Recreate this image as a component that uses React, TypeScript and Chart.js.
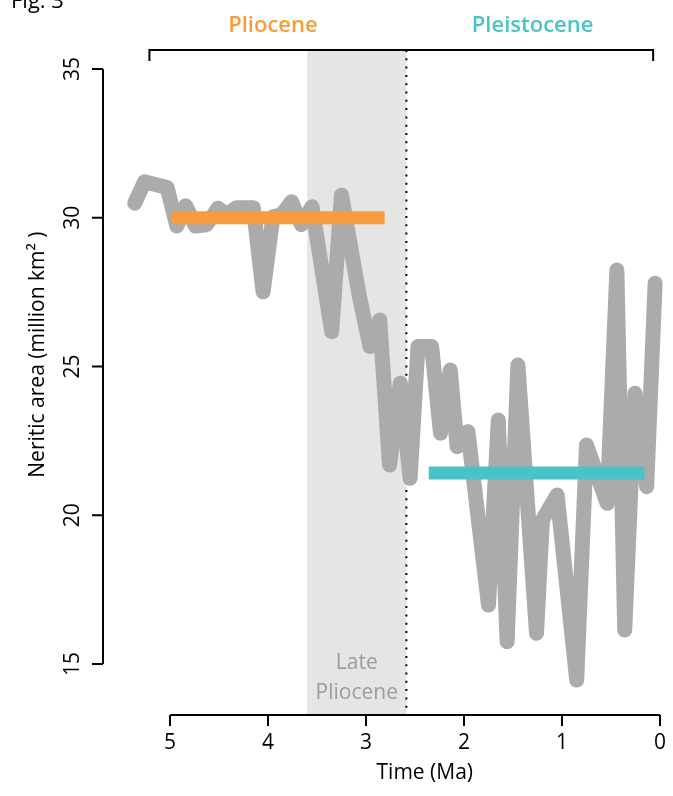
import React, { useEffect, useRef } from "react";
import { Chart, registerables } from "chart.js";
Chart.register(...registerables);

// Neritic area through time (gray series)
const timeMa = [5.36, 5.26, 5.03, 4.93, 4.84, 4.74, 4.63, 4.51, 4.42, 4.32, 4.15, 4.05, 3.95, 3.86, 3.76, 3.66, 3.55, 3.35, 3.25, 3.07, 2.96, 2.86, 2.76, 2.65, 2.55, 2.47, 2.33, 2.24, 2.14, 2.07, 1.96, 1.75, 1.65, 1.56, 1.45, 1.26, 1.2, 1.05, 0.85, 0.75, 0.54, 0.44, 0.36, 0.255, 0.136, 0.05];
const neriticArea = [30.49, 31.21, 31.02, 29.72, 30.4, 29.72, 29.76, 30.32, 30.1, 30.34, 30.34, 27.51, 30.03, 30.1, 30.54, 29.77, 30.37, 26.17, 30.76, 27.4, 25.67, 26.56, 21.69, 24.44, 21.24, 25.67, 25.67, 22.76, 24.88, 22.3, 22.81, 16.98, 23.2, 15.75, 25.05, 16.03, 19.84, 20.68, 14.46, 22.36, 20.4, 28.24, 16.14, 24.1, 20.96, 27.8];

// Epoch means
const plioceneSpan = [4.98, 2.81];
const plioceneMean = 30.0;
const pleistoceneSpan = [2.36, 0.16];
const pleistoceneMean = 21.42;

// Axes / annotations
const xTicks = [5, 4, 3, 2, 1, 0];
const yTicks = [15, 20, 25, 30, 35];
const latePlioceneSpan = [3.6, 2.588];
const epochBoundary = 2.588;
const bracketSpan = [5.21, 0.07];
const epochLabels = ["Pliocene", "Pleistocene"];
const epochLabelCenters = [3.95, 1.3];

const GRAY = "#aaabaa";
const ORANGE = "#f69c3a";
const CYAN = "#48c3c6";
const FONT = "'Open Sans', sans-serif";

export default function App() {
  const ref = useRef<HTMLCanvasElement | null>(null);

  useEffect(() => {
    document.body.style.margin = "0";
    const canvas = ref.current;
    if (!canvas) return;

    const decor = {
      id: "decor",
      beforeDatasetsDraw(chart: any) {
        const ctx = chart.ctx;
        const xs = chart.scales.x;
        const ys = chart.scales.y;
        const topY = ys.getPixelForValue(35) - 19;
        const axisY = ys.getPixelForValue(15) + 51;
        ctx.save();
        // Late Pliocene band
        const bx0 = xs.getPixelForValue(latePlioceneSpan[0]);
        const bx1 = xs.getPixelForValue(latePlioceneSpan[1]);
        ctx.fillStyle = "#e5e5e5";
        ctx.fillRect(bx0, topY, bx1 - bx0, axisY - topY);
        // dotted boundary
        const dx = xs.getPixelForValue(epochBoundary);
        ctx.strokeStyle = "#000";
        ctx.lineWidth = 2;
        ctx.setLineDash([2, 6.3]);
        ctx.beginPath();
        ctx.moveTo(dx, topY);
        ctx.lineTo(dx, axisY);
        ctx.stroke();
        ctx.setLineDash([]);
        // band label
        ctx.fillStyle = "#9c9c9c";
        ctx.font = `21px ${FONT}`;
        ctx.textAlign = "center";
        ctx.textBaseline = "alphabetic";
        const cx = (bx0 + bx1) / 2;
        ctx.fillText("Late", cx, 669);
        ctx.fillText("Pliocene", cx, 699);
        ctx.restore();
      },
      afterDatasetsDraw(chart: any) {
        const ctx = chart.ctx;
        const xs = chart.scales.x;
        const ys = chart.scales.y;
        const topY = ys.getPixelForValue(35) - 19;
        const axisY = ys.getPixelForValue(15) + 51;
        const axisX = chart.chartArea.left - 67;
        const tick = 11;
        ctx.save();
        ctx.strokeStyle = "#000";
        ctx.fillStyle = "#000";
        ctx.lineWidth = 2;
        ctx.lineCap = "butt";
        // x axis
        ctx.beginPath();
        ctx.moveTo(xs.getPixelForValue(xTicks[0]), axisY);
        ctx.lineTo(xs.getPixelForValue(xTicks[xTicks.length - 1]), axisY);
        xTicks.forEach((t) => {
          const px = xs.getPixelForValue(t);
          ctx.moveTo(px, axisY);
          ctx.lineTo(px, axisY + tick);
        });
        ctx.stroke();
        ctx.font = `21px ${FONT}`;
        ctx.textAlign = "center";
        ctx.textBaseline = "alphabetic";
        xTicks.forEach((t) => {
          ctx.fillText(String(t), xs.getPixelForValue(t), 749);
        });
        ctx.fillText("Time (Ma)", xs.getPixelForValue(2.4), 779);
        // y axis
        ctx.beginPath();
        ctx.moveTo(axisX, ys.getPixelForValue(yTicks[0]));
        ctx.lineTo(axisX, ys.getPixelForValue(yTicks[yTicks.length - 1]));
        yTicks.forEach((t) => {
          const py = ys.getPixelForValue(t);
          ctx.moveTo(axisX, py);
          ctx.lineTo(axisX - tick, py);
        });
        ctx.stroke();
        yTicks.forEach((t) => {
          ctx.save();
          ctx.translate(79, ys.getPixelForValue(t));
          ctx.rotate(-Math.PI / 2);
          ctx.fillText(String(t), 0, 0);
          ctx.restore();
        });
        ctx.save();
        ctx.translate(44, ys.getPixelForValue(25.4));
        ctx.rotate(-Math.PI / 2);
        ctx.fillText("Neritic area (million km\u00B2 )", 0, 0);
        ctx.restore();
        // top bracket
        const b0 = xs.getPixelForValue(bracketSpan[0]);
        const b1 = xs.getPixelForValue(bracketSpan[1]);
        ctx.beginPath();
        ctx.moveTo(b0, topY + tick);
        ctx.lineTo(b0, topY);
        ctx.lineTo(b1, topY);
        ctx.lineTo(b1, topY + tick);
        ctx.stroke();
        // epoch labels
        ctx.font = `600 22px ${FONT}`;
        ctx.fillStyle = ORANGE;
        ctx.fillText(epochLabels[0], xs.getPixelForValue(epochLabelCenters[0]), 32);
        ctx.fillStyle = CYAN;
        ctx.fillText(epochLabels[1], xs.getPixelForValue(epochLabelCenters[1]), 32);
        // figure label
        ctx.fillStyle = "#000";
        ctx.font = `22px ${FONT}`;
        ctx.textAlign = "left";
        ctx.fillText("Fig. 3", 11, 8);
        ctx.restore();
      },
    };

    const chart = new Chart(canvas, {
      type: "line",
      data: {
        datasets: [
          {
            data: plioceneSpan.map((x) => ({ x, y: plioceneMean })),
            borderColor: ORANGE,
            borderWidth: 13,
            borderCapStyle: "butt",
            pointRadius: 0,
            clip: false as any,
          },
          {
            data: pleistoceneSpan.map((x) => ({ x, y: pleistoceneMean })),
            borderColor: CYAN,
            borderWidth: 13,
            borderCapStyle: "butt",
            pointRadius: 0,
            clip: false as any,
          },
          {
            data: timeMa.map((x, i) => ({ x, y: neriticArea[i] })),
            borderColor: GRAY,
            borderWidth: 15,
            borderCapStyle: "round",
            borderJoinStyle: "round",
            pointRadius: 0,
            tension: 0,
            clip: false as any,
          },
        ],
      },
      options: {
        animation: false,
        responsive: false,
        devicePixelRatio: 1,
        layout: { padding: { left: 170, right: 13, top: 69, bottom: 132 } },
        plugins: { legend: { display: false }, tooltip: { enabled: false } },
        events: [],
        scales: {
          x: { type: "linear", reverse: true, min: 0, max: 5, display: false },
          y: { type: "linear", min: 15, max: 35, display: false },
        },
      },
      plugins: [decor],
    });
    return () => chart.destroy();
  }, []);

  return (
    <div style={{ width: 673, height: 796, background: "#fff" }}>
      <canvas ref={ref} width={673} height={796} />
    </div>
  );
}
